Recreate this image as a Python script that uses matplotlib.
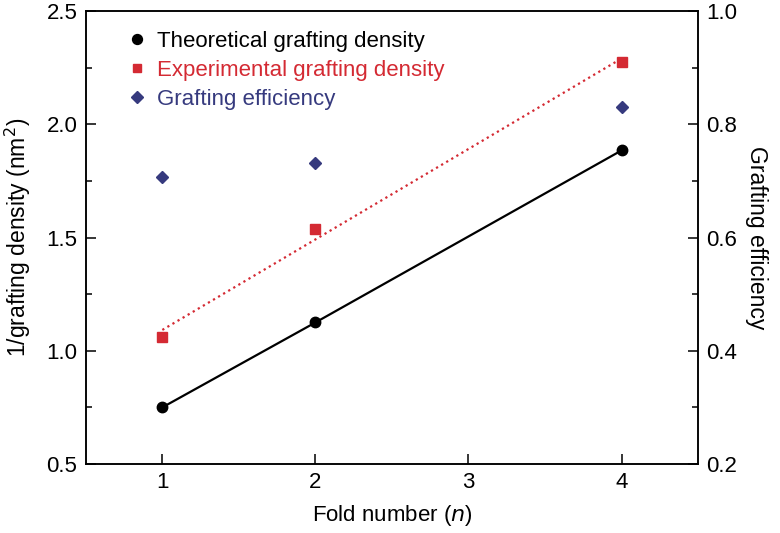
import matplotlib.pyplot as plt
import numpy as np

plt.rcParams['font.family'] = ['Liberation Sans', 'DejaVu Sans']

fold = [1, 2, 4]
theoretical = [0.75, 1.125, 1.885]
experimental = [1.06, 1.54, 2.275]
efficiency = [0.707, 0.731, 0.830]

red = '#d42a33'
navy = '#363a7e'

fig = plt.figure(figsize=(7.8, 5.33), dpi=100)
ax = fig.add_axes([0.110, 0.1295, 0.785, 0.8495])
ax2 = ax.twinx()

# linear fit for the experimental density
k, b = np.polyfit(fold, experimental, 1)
xfit = np.array([fold[0], fold[-1]])
ax.plot(xfit, k * xfit + b, ':', color=red, lw=1.6)

ax.plot(fold, theoretical, '-', color='black', lw=1.6)
h1, = ax.plot(fold, theoretical, 'o', color='black', ms=7.5, label='Theoretical grafting density')
h2, = ax.plot(fold, experimental, 's', color=red, ms=6.5, label='Experimental grafting density')
h3, = ax2.plot(fold, efficiency, 'D', color=navy, ms=6.5, label='Grafting efficiency')

ax.set_xlim(0.5, 4.5)
ax.set_ylim(0.5, 2.5)
ax2.set_ylim(0.2, 1.0)
ax.set_xticks([1, 2, 3, 4])
ax.set_yticks([0.5, 1.0, 1.5, 2.0, 2.5])
ax.set_yticks(np.arange(0.75, 2.5, 0.5), minor=True)
ax2.set_yticks([0.2, 0.4, 0.6, 0.8, 1.0])
ax2.set_yticks([0.3, 0.5, 0.7, 0.9], minor=True)
ax.set_yticklabels(['0.5', '1.0', '1.5', '2.0', '2.5'])
ax2.set_yticklabels(['0.2', '0.4', '0.6', '0.8', '1.0'])

for a in (ax, ax2):
    a.tick_params(which='major', direction='in', length=7, width=1.1, labelsize=16, pad=6)
    a.tick_params(which='minor', direction='in', length=4, width=1.1)
    for s in a.spines.values():
        s.set_linewidth(1.1)

ax.set_xlabel('Fold number ($\\it{n}$)', fontsize=16, labelpad=7)
ax.set_ylabel('1/grafting density (nm$^2$)', fontsize=16.5, labelpad=10)
ax2.set_ylabel('Grafting efficiency', fontsize=16.5, rotation=270, labelpad=22)

leg = ax.legend(handles=[h1, h2, h3], loc='upper left', bbox_to_anchor=(0.04, 1.0),
                frameon=False, fontsize=16, handlelength=0.6, handletextpad=0.6,
                labelspacing=0.35, markerscale=0.95)
for t, c in zip(leg.get_texts(), ['black', red, navy]):
    t.set_color(c)

fig.savefig('out.png', dpi=100)
